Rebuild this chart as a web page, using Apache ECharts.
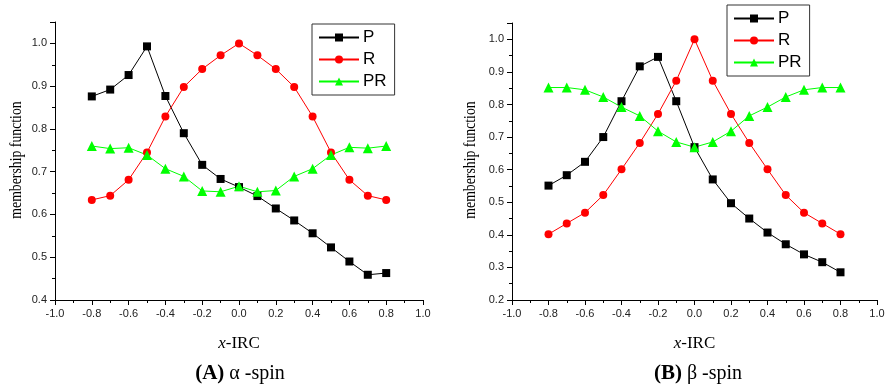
<!DOCTYPE html>
<html>
<head>
<meta charset="utf-8">
<script src="https://cdn.jsdelivr.net/npm/echarts@6/dist/echarts.min.js"></script>
<style>html,body{margin:0;padding:0;background:#fff;}#c{width:888px;height:385px;}</style>
</head>
<body>
<div id="c"></div>
<script>
const xIRC = [-0.8,-0.7,-0.6,-0.5,-0.4,-0.3,-0.2,-0.1,0.0,0.1,0.2,0.3,0.4,0.5,0.6,0.7,0.8];
const alphaP  = [0.876,0.892,0.926,0.993,0.877,0.790,0.716,0.683,0.664,0.643,0.614,0.586,0.556,0.523,0.490,0.459,0.463];
const alphaR  = [0.634,0.644,0.681,0.745,0.829,0.898,0.940,0.972,1.000,0.972,0.940,0.898,0.829,0.745,0.681,0.644,0.634];
const alphaPR = [0.760,0.754,0.756,0.739,0.707,0.689,0.655,0.653,0.666,0.653,0.656,0.689,0.707,0.739,0.757,0.755,0.760];
const betaP   = [0.551,0.583,0.624,0.700,0.810,0.917,0.946,0.810,0.669,0.570,0.497,0.450,0.407,0.371,0.340,0.316,0.285];
const betaR   = [0.402,0.435,0.468,0.522,0.601,0.682,0.771,0.873,1.000,0.873,0.771,0.682,0.601,0.522,0.468,0.435,0.402];
const betaPR  = [0.852,0.852,0.845,0.823,0.792,0.765,0.718,0.685,0.669,0.685,0.718,0.765,0.792,0.823,0.845,0.852,0.852];
const seriesNames = ['P','R','PR'];
const panelCaptions = [['(A)',' α -spin'],['(B)',' β -spin']];
const yAxisTitle = 'membership function';
const yMins = [0.4, 0.2];

const colors = ['#000000','#ff0000','#00ff00'];
const symbols = ['rect','circle','triangle'];
const symSizes = [8,8,10];
const SERIF = 'Liberation Serif, Times New Roman, serif';
const SANS = 'Liberation Sans, Arial, sans-serif';

function pts(arr){ return xIRC.map((x,i)=>[x,arr[i]]); }

const chart = echarts.init(document.getElementById('c'), null, {renderer:'canvas'});
const labelColor = '#222';
function xAxis(gi){
  return {
    type:'value', gridIndex:gi, min:-1, max:1, interval:0.2,
    axisLine:{onZero:false, lineStyle:{color:'#000',width:1}},
    axisTick:{show:true, inside:false, length:5, lineStyle:{color:'#000'}},
    minorTick:{show:true, splitNumber:2, length:3, lineStyle:{color:'#000'}},
    splitLine:{show:false},
    axisLabel:{margin:8, color:labelColor, fontFamily:SANS, fontSize:11,
      formatter:v=>v.toFixed(1)},
    name:'{i|x}-IRC', nameLocation:'middle', nameGap:35,
    nameTextStyle:{fontFamily:SERIF, fontSize:17, color:'#000',
      rich:{i:{fontStyle:'italic', fontFamily:SERIF, fontSize:17, color:'#000'}}}
  };
}
function yAxis(gi, mn){
  return {
    type:'value', gridIndex:gi, min:mn, max:1.05, interval:0.1,
    axisLine:{show:true, onZero:false, lineStyle:{color:'#000',width:1}},
    axisTick:{show:true, inside:false, length:5, lineStyle:{color:'#000'}},
    minorTick:{show:true, splitNumber:2, length:3, lineStyle:{color:'#000'}},
    splitLine:{show:false},
    axisLabel:{margin:8, color:labelColor, fontFamily:SANS, fontSize:11,
      formatter:v=>{ const r=Math.round(v*10)/10; return Math.abs(r-v)<1e-6 ? v.toFixed(1) : ''; }}
  };
}
const dataSets = [[alphaP,alphaR,alphaPR],[betaP,betaR,betaPR]];
const series = [];
for (let g=0; g<2; g++){
  for (let s=0; s<3; s++){
    series.push({
      name:seriesNames[s], type:'line', xAxisIndex:g, yAxisIndex:g,
      data:pts(dataSets[g][s]), symbol:symbols[s], symbolSize:symSizes[s],
      lineStyle:{color:colors[s], width:1}, itemStyle:{color:colors[s]},
      showAllSymbol:true, animation:false
    });
  }
}
function legend(left, top){
  return {
    orient:'vertical', left:left, top:top, data:seriesNames,
    borderColor:'#333', borderWidth:1, padding:[5,8,5,6], itemGap:5,
    itemWidth:40, itemHeight:10,
    textStyle:{fontFamily:SANS, fontSize:17, color:'#000', padding:[0,0,0,-1]},
    selectedMode:false
  };
}
function yTitle(cx){
  return {
    type:'text', x:cx, y:160, rotation:Math.PI/2, scaleX:0.86, scaleY:1,
    style:{text:yAxisTitle, font:'16px '+SERIF, fill:'#000', align:'center', verticalAlign:'middle'}
  };
}
const option = {
  backgroundColor:'#fff',
  animation:false,
  grid:[
    {left:55, top:22, width:368, height:278},
    {left:512, top:23, width:365, height:277}
  ],
  xAxis:[xAxis(0), xAxis(1)],
  yAxis:[yAxis(0,yMins[0]), yAxis(1,yMins[1])],
  legend:[legend(312,24), legend(727,5)],
  graphic:[yTitle(17), yTitle(471)],
  title:[0,1].map(i=>({
    text:'{b|'+panelCaptions[i][0]+'}{r|'+panelCaptions[i][1]+'}',
    left:i===0?235:693, top:358, textAlign:'center',
    textStyle:{fontWeight:'normal', rich:{
      b:{fontFamily:SERIF, fontWeight:'bold', fontSize:21, color:'#000'},
      r:{fontFamily:SERIF, fontWeight:'normal', fontSize:20, color:'#000'}
    }}
  })),
  series:series
};
chart.setOption(option);
</script>
</body>
</html>
